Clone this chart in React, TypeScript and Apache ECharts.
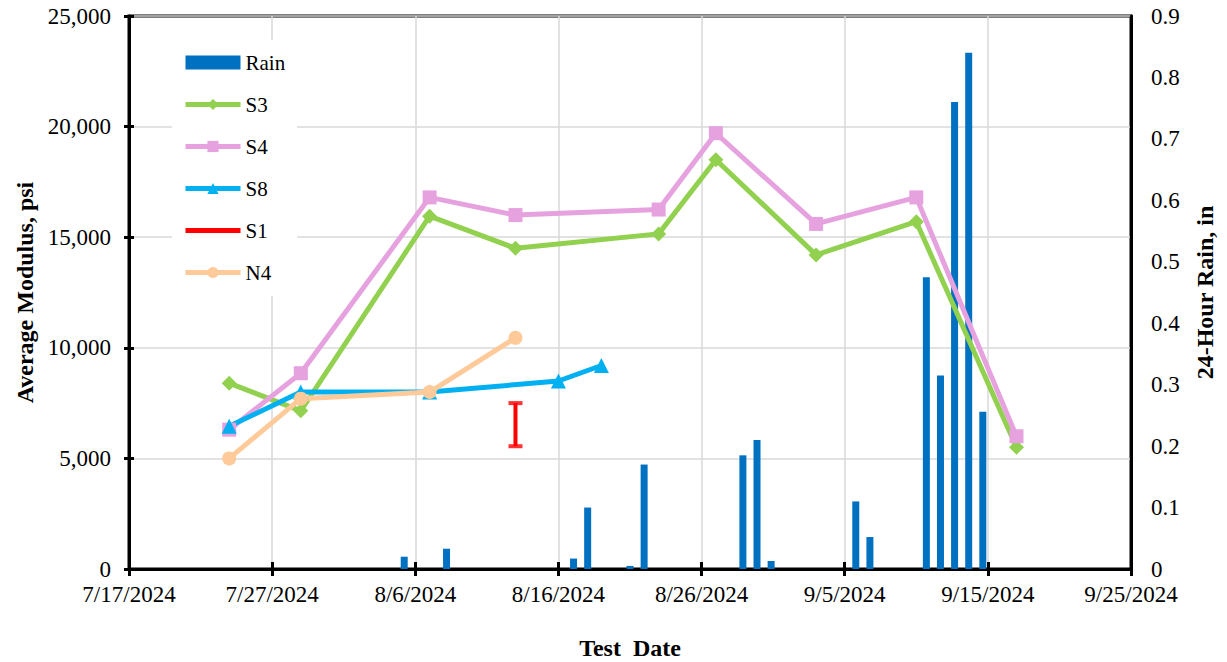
import React, { useEffect, useRef } from "react";
import * as echarts from "echarts";

// ---- data ----
const testDates = ["7/24/2024", "7/29/2024", "8/7/2024", "8/13/2024", "8/23/2024", "8/27/2024", "9/3/2024", "9/10/2024", "9/17/2024"];
const s3Values = [8400, 7150, 15950, 14500, 15150, 18500, 14200, 15700, 5500];
const s4Values = [6300, 8850, 16800, 16000, 16250, 19700, 15600, 16800, 6000];
const s8Dates = ["7/24/2024", "7/29/2024", "8/7/2024", "8/16/2024", "8/19/2024"];
const s8Values = [6450, 8000, 8000, 8500, 9200];
const n4Dates = ["7/24/2024", "7/29/2024", "8/7/2024", "8/13/2024"];
const n4Values = [5000, 7700, 8000, 10450];
const s1Dates = ["8/13/2024", "8/13/2024"];
const s1Values = [5550, 7500];
const rainDates = ["8/5/2024", "8/8/2024", "8/17/2024", "8/18/2024", "8/21/2024", "8/22/2024", "8/29/2024", "8/30/2024", "8/31/2024", "9/6/2024", "9/7/2024", "9/11/2024", "9/12/2024", "9/13/2024", "9/14/2024", "9/15/2024"];
const rainValues = [0.02, 0.033, 0.017, 0.10, 0.005, 0.17, 0.185, 0.21, 0.013, 0.11, 0.052, 0.475, 0.315, 0.76, 0.84, 0.256];
const axisStart = "7/17/2024";
const axisEnd = "9/25/2024";
const dateStepDays = 10;
const modulusTicks = { min: 0, max: 25000, step: 5000 };
const rainTicks = { min: 0, max: 0.9, step: 0.1 };

const toUTC = (s: string) => {
  const [m, d, y] = s.split("/").map(Number);
  return Date.UTC(y, m - 1, d);
};
const START = toUTC(axisStart);
const dayOf = (s: string) => (toUTC(s) - START) / 864e5;
const SPAN = dayOf(axisEnd);
const fmtDate = (v: number) => {
  const dt = new Date(START + Math.round(v) * 864e5);
  return `${dt.getUTCMonth() + 1}/${dt.getUTCDate()}/${dt.getUTCFullYear()}`;
};
const pairs = (ds: string[], vs: number[]) => ds.map((d, i) => [dayOf(d), vs[i]]);

const FONT = "'Liberation Serif', 'Times New Roman', serif";

export default function App() {
  const ref = useRef<HTMLDivElement>(null);
  useEffect(() => {
    if (!ref.current) return;
    const chart = echarts.init(ref.current, null, { renderer: "svg" });
    const black = "#000";
    const lbl = { color: black, fontFamily: FONT, fontSize: 23 };
    const lineSeries = (name: string, ds: string[], vs: number[], color: string, symbol: string, size: number) => ({
      name,
      type: "line",
      xAxisIndex: 0,
      yAxisIndex: 0,
      data: pairs(ds, vs),
      symbol,
      symbolSize: size,
      showSymbol: true,
      lineStyle: { color, width: 5 },
      itemStyle: { color },
      z: 3,
    });
    chart.setOption({
      animation: false,
      backgroundColor: "#fff",
      grid: {
        left: 129, right: 96, top: 16, bottom: 93,
        outerBoundsMode: "none",
        containLabel: false,
        show: true, borderColor: black, borderWidth: 3, backgroundColor: "transparent",
      },
      legend: {
        data: [
          { name: "Rain", icon: "rect" },
          "S3",
          "S4",
          "S8",
          { name: "S1", itemStyle: { opacity: 0 } },
          "N4",
        ],
        orient: "vertical",
        left: 172,
        top: 40,
        itemWidth: 55,
        itemHeight: 14,
        itemGap: 21,
        padding: [12, 12, 13, 11],
        backgroundColor: "#fff",
        lineStyle: { width: 5 },
        textStyle: { color: black, fontFamily: FONT, fontSize: 21 },
      },
      xAxis: [
        {
          type: "value",
          position: "bottom",
          min: 0,
          max: SPAN,
          interval: dateStepDays,
          axisLine: { onZero: false, lineStyle: { color: black, width: 3 } },
          axisTick: { show: true, length: 7, lineStyle: { color: black, width: 3 } },
          axisLabel: { ...lbl, margin: 14, formatter: (v: number) => fmtDate(v) },
          splitLine: { show: true, lineStyle: { color: "#d9d9d9", width: 1.5 } },
          name: "Test  Date",
          nameLocation: "middle",
          nameGap: 67,
          nameTextStyle: { color: black, fontFamily: FONT, fontSize: 24, fontWeight: "bold" },
        },
        { type: "value", show: false, position: "top", min: -0.5, max: SPAN + 0.5 },
        {
          type: "value",
          position: "bottom",
          min: 0,
          max: SPAN,
          interval: dateStepDays,
          axisLine: { show: false, onZero: false },
          axisTick: { show: true, inside: true, length: 7, lineStyle: { color: black, width: 3 } },
          axisLabel: { show: false },
          splitLine: { show: false },
        },
      ],
      yAxis: [
        {
          type: "value",
          position: "left",
          min: modulusTicks.min,
          max: modulusTicks.max,
          interval: modulusTicks.step,
          axisLine: { show: true, onZero: false, lineStyle: { color: black, width: 3 } },
          axisTick: { show: true, length: 5, lineStyle: { color: black, width: 3 } },
          axisLabel: { ...lbl, margin: 18, formatter: (v: number) => v.toLocaleString("en-US") },
          splitLine: { show: true, lineStyle: { color: "#d9d9d9", width: 1.5 } },
          name: "Average Modulus, psi",
          nameLocation: "middle",
          nameRotate: 90,
          nameGap: 92,
          nameTextStyle: { color: black, fontFamily: FONT, fontSize: 24, fontWeight: "bold" },
        },
        {
          type: "value",
          position: "right",
          min: rainTicks.min,
          max: rainTicks.max,
          interval: rainTicks.step,
          axisLine: { show: true, onZero: false, lineStyle: { color: black, width: 3 } },
          axisTick: { show: false },
          axisLabel: { ...lbl, margin: 20, formatter: (v: number) => String(+v.toFixed(1)) },
          splitLine: { show: false },
          name: "24-Hour Rain, in",
          nameLocation: "middle",
          nameRotate: 90,
          nameGap: 62,
          nameTextStyle: { color: black, fontFamily: FONT, fontSize: 24, fontWeight: "bold" },
        },
        {
          type: "value",
          position: "left",
          min: modulusTicks.min,
          max: modulusTicks.max,
          interval: modulusTicks.step,
          axisLine: { show: false, onZero: false },
          axisTick: { show: true, inside: true, length: 5, lineStyle: { color: black, width: 3 } },
          axisLabel: { show: false },
          splitLine: { show: false },
        },
      ],
      series: [
        {
          name: "Rain",
          type: "bar",
          xAxisIndex: 1,
          yAxisIndex: 1,
          data: pairs(rainDates, rainValues),
          barWidth: 7,
          itemStyle: { color: "#0070C0" },
          z: 2,
        },
        lineSeries("S3", testDates, s3Values, "#92D050", "diamond", 15),
        lineSeries("S4", testDates, s4Values, "#E6A1DF", "rect", 14),
        lineSeries("S8", s8Dates, s8Values, "#00B0F0", "triangle", 15),
        {
          name: "S1",
          type: "line",
          xAxisIndex: 0,
          yAxisIndex: 0,
          data: pairs(s1Dates, s1Values),
          symbol: "none",
          lineStyle: { color: "#FF0000", width: 4 },
          itemStyle: { color: "#FF0000" },
          z: 3,
        },
        {
          name: "S1 caps",
          type: "scatter",
          xAxisIndex: 0,
          yAxisIndex: 0,
          data: pairs(s1Dates, s1Values),
          symbol: "rect",
          symbolSize: [14, 4],
          itemStyle: { color: "#FF0000" },
          z: 3,
        },
        lineSeries("N4", n4Dates, n4Values, "#FFCA99", "circle", 14),
      ],
    });
    return () => chart.dispose();
  }, []);
  return <div ref={ref} style={{ position: "absolute", left: 0, top: 0, width: 1227, height: 662 }} />;
}
